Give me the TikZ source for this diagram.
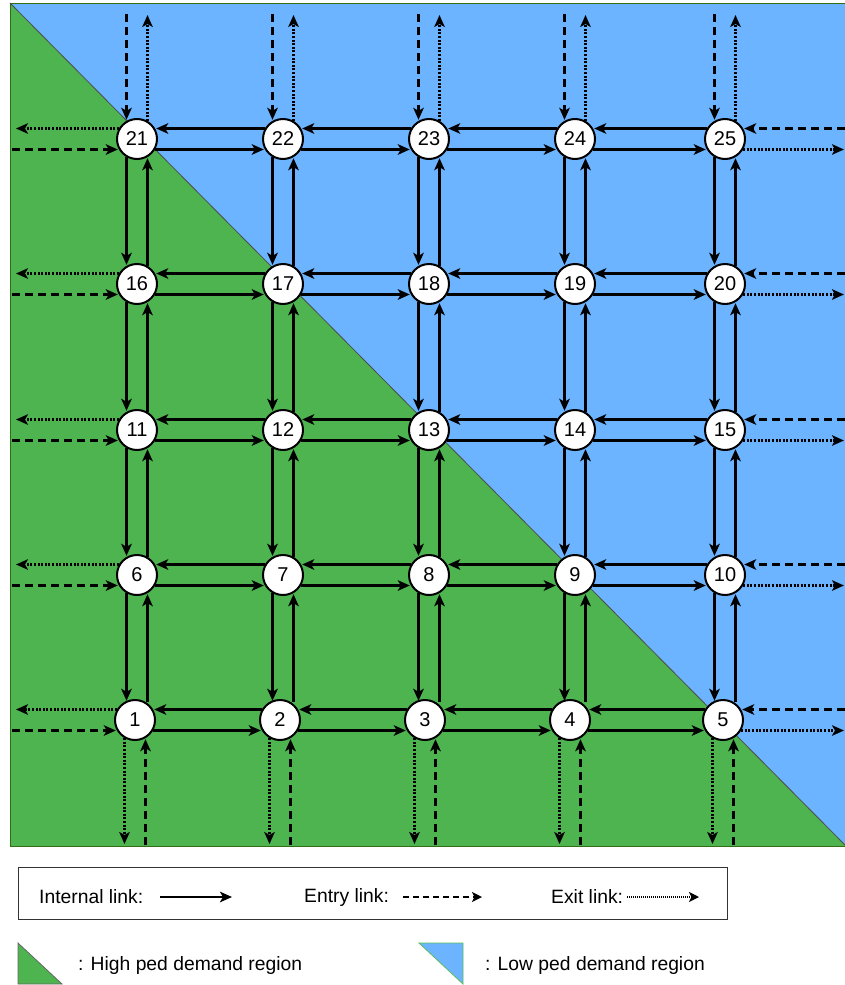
\documentclass[tikz,border=0pt]{standalone}
\usepackage{fontspec}
\setmainfont{Liberation Sans}
\usetikzlibrary{arrows.meta}
\definecolor{hiGreen}{RGB}{77,180,80}
\definecolor{loBlue}{RGB}{108,180,255}
\definecolor{edgeGreen}{RGB}{50,110,20}
\definecolor{triEdge}{RGB}{90,190,90}
\tikzset{
  >={Stealth[length=12pt,width=10.5pt,inset=3pt]},
  junction/.style={circle,draw=black,line width=2pt,fill=white,minimum size=40pt,inner sep=0pt,font=\fontsize{20}{22}\selectfont},
  intlink/.style={->,line width=2.2pt,shorten >=1pt},
  entrylink/.style={->,line width=2.2pt,dash pattern=on 8pt off 5pt,shorten >=1pt},
  exitlink/.style={->,line width=2.2pt,dash pattern=on 2pt off 1.6pt,shorten >=1pt},
  legtext/.style={anchor=west,inner sep=0pt,font=\fontsize{19.3}{22}\selectfont},
}
\begin{document}
\begin{tikzpicture}[x=1pt,y=-1pt]
\useasboundingbox (0,0) rectangle (845,985);
\fill[white] (0,0) rectangle (845,985);
% regions
\fill[loBlue] (10,3) -- (846,3) -- (846,846) -- cycle;
\fill[hiGreen] (10,3) -- (10,846) -- (846,846) -- cycle;
\draw[edgeGreen,line width=0.8pt] (10,3) rectangle (846,846);
\draw[black!70,line width=0.8pt] (10,3) -- (846,846);
% boundary coordinates
\coordinate (L) at (15,0);
\coordinate (Lin) at (12,0);
\coordinate (R) at (845,0);
\coordinate (T) at (0,14);
\coordinate (B) at (0,845);
% junctions
\foreach \i/\x/\y in {1/135/720,2/280/720,3/425/720,4/570/720,5/723/720,
  6/137/575,7/283/575,8/429/575,9/575/575,10/725/575,
  11/137/430,12/283/430,13/429/430,14/575/430,15/725/430,
  16/137/284,17/283/284,18/429/284,19/575/284,20/725/284,
  21/137/139,22/283/139,23/429/139,24/575/139,25/725/139}
  \node[junction] (n\i) at (\x,\y) {\i};
% internal horizontal links
\foreach \r in {0,...,4}{
  \foreach \c in {1,...,4}{
    \pgfmathtruncatemacro{\a}{5*\r+\c}
    \pgfmathtruncatemacro{\b}{\a+1}
    \draw[intlink] (n\b.150) -- (n\a.30);
    \draw[intlink] (n\a.-30) -- (n\b.-150);
  }
}
% internal vertical links (kept straight, aligned with the upper junction)
\foreach \a in {1,...,20}{
  \pgfmathtruncatemacro{\u}{\a+5}
  \draw[intlink] (n\u.240) -- (n\u.240 |- n\a.120);
  \draw[intlink] (n\u.300 |- n\a.60) -- (n\u.300);
}
% left boundary
\foreach \i in {1,6,11,16,21}{
  \draw[exitlink] (n\i.150) -- (n\i.150 -| L);
  \draw[entrylink] (n\i.210 -| Lin) -- (n\i.210);
}
% right boundary
\foreach \i in {5,10,15,20,25}{
  \draw[entrylink] (n\i.30 -| R) -- (n\i.30);
  \draw[exitlink] (n\i.-30) -- (n\i.-30 -| R);
}
% top boundary
\foreach \i in {21,...,25}{
  \draw[entrylink] (n\i.120 |- T) -- (n\i.120);
  \draw[exitlink] (n\i.60) -- (n\i.60 |- T);
}
% bottom boundary
\foreach \i in {1,...,5}{
  \draw[exitlink] (n\i.240) -- (n\i.240 |- B);
  \draw[entrylink] (n\i.300 |- B) -- (n\i.300);
}
% legend box
\node[draw=black!80,line width=1pt,minimum width=709pt,minimum height=52pt,inner sep=0pt,anchor=north west] (legbox) at (18,867) {};
\node[legtext] (tInt) at (39,897) {Internal link:};
\coordinate (iA) at (160,897); \coordinate (iB) at (232,897);
\draw[->,line width=2.2pt] (iA) -- (iB);
\node[legtext] (tEnt) at (304,897) {Entry link:};
\coordinate (eA) at (403,897); \coordinate (eB) at (482,897);
\draw[->,line width=2pt,dash pattern=on 6pt off 4pt,>={Stealth[length=10pt,width=10pt,inset=2.5pt]}] (eA) -- (eB);
\node[legtext] (tExt) at (551,897) {Exit link:};
\coordinate (xA) at (627,897); \coordinate (xB) at (699,897);
\draw[->,line width=1.5pt,dash pattern=on 1pt off 1pt,>={Stealth[length=10pt,width=10pt,inset=2.5pt]}] (xA) -- (xB);
% region legend
\filldraw[fill=hiGreen,draw=black!60,line width=0.8pt] (18,943) -- (18,984) -- (62,984) -- cycle;
\node[legtext] (tHigh) at (78,965) {: High ped demand region};
\filldraw[fill=loBlue,draw=triEdge,line width=0.8pt] (419,943) -- (463,943) -- (463,984) -- cycle;
\node[legtext] (tLow) at (485,965) {: Low ped demand region};
\end{tikzpicture}
\end{document}
